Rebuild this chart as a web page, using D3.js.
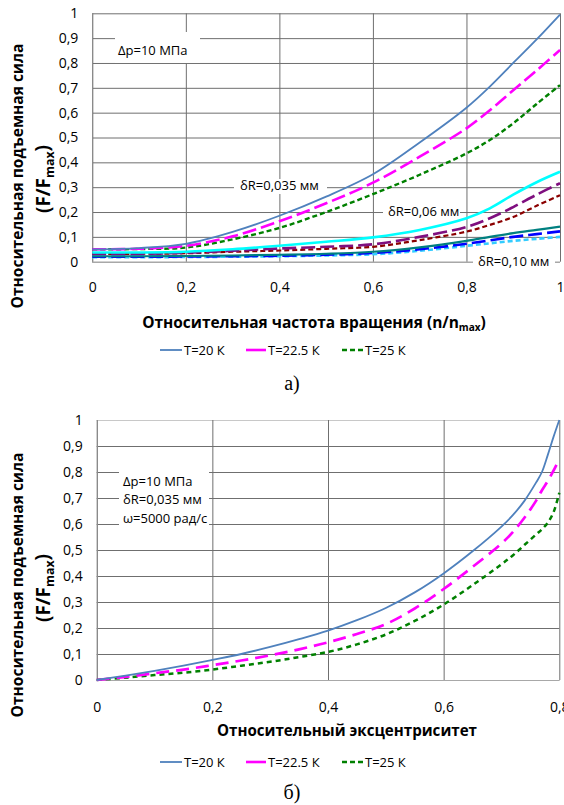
<!DOCTYPE html>
<html><head><meta charset="utf-8">
<script src="https://cdn.jsdelivr.net/npm/d3@7"></script>
<style>body{margin:0;background:#fff}svg{display:block}</style>
</head><body>
<script>
// ---------- DATA ----------
const yTicks = [0,0.1,0.2,0.3,0.4,0.5,0.6,0.7,0.8,0.9,1];
const yTickLabels = ["0","0,1","0,2","0,3","0,4","0,5","0,6","0,7","0,8","0,9","1"];
const speedTicks = [0,0.2,0.4,0.6,0.8,1];
const speedTickLabels = ["0","0,2","0,4","0,6","0,8","1"];
const eccTicks = [0,0.2,0.4,0.6,0.8];
const eccTickLabels = ["0","0,2","0,4","0,6","0,8"];
const legendLabels = ["T=20 К","T=22.5 К","T=25 К"];

// chart a) relative rotation speed n/nmax
const speedX = [0,0.1,0.2,0.3,0.4,0.5,0.6,0.7,0.8,0.85,0.9,0.95,1.0];
const gap035_T20  = [0.05,0.055,0.072,0.12,0.185,0.262,0.352,0.48,0.62,0.705,0.8,0.895,0.995];
const gap035_T225 = [0.05,0.052,0.064,0.102,0.163,0.235,0.318,0.423,0.537,0.61,0.69,0.77,0.852];
const gap035_T25  = [0.05,0.051,0.057,0.09,0.136,0.2,0.272,0.35,0.436,0.49,0.557,0.635,0.711];
const gap06_T20   = [0.037,0.037,0.04,0.05,0.064,0.08,0.098,0.128,0.175,0.215,0.27,0.32,0.362];
const gap06_T225  = [0.032,0.032,0.036,0.044,0.053,0.06,0.07,0.1,0.14,0.175,0.22,0.27,0.316];
const gap06_T25   = [0.032,0.032,0.034,0.04,0.045,0.052,0.06,0.087,0.121,0.148,0.18,0.225,0.268];
const gap10_T20   = [0.022,0.022,0.023,0.025,0.028,0.032,0.04,0.058,0.084,0.1,0.115,0.128,0.141];
const gap10_T225  = [0.02,0.02,0.021,0.022,0.024,0.028,0.035,0.05,0.072,0.086,0.1,0.111,0.122];
const gap10_T25   = [0.018,0.018,0.019,0.02,0.022,0.025,0.03,0.044,0.064,0.074,0.084,0.092,0.1];

// chart б) relative eccentricity
const eccX = [0,0.05,0.1,0.15,0.2,0.25,0.3,0.35,0.4,0.45,0.5,0.55,0.6,0.65,0.7,0.72,0.74,0.76,0.77,0.78,0.79,0.8];
const ecc_T20  = [0,0.017,0.035,0.055,0.077,0.1,0.127,0.157,0.19,0.23,0.277,0.337,0.41,0.495,0.59,0.635,0.69,0.76,0.8,0.865,0.935,1.0];
const ecc_T225 = [0,0.012,0.026,0.04,0.057,0.075,0.095,0.118,0.145,0.177,0.215,0.275,0.35,0.435,0.525,0.57,0.625,0.69,0.73,0.765,0.805,0.85];
const ecc_T25  = [0,0.009,0.019,0.028,0.04,0.055,0.07,0.088,0.108,0.137,0.175,0.227,0.29,0.365,0.445,0.48,0.52,0.56,0.58,0.605,0.645,0.72];

// ---------- STYLES ----------
const FONT = "'Open Sans', 'Noto Sans', sans-serif";
const sBlue   = {color:"#4F81BD", width:1.8, dash:null};
const sMag    = {color:"#FF00FF", width:2.6, dash:"14,5"};
const sGreen  = {color:"#008000", width:2.4, dash:"5,3"};
const sCyan   = {color:"#00FFFF", width:2.6, dash:null};
const sPurple = {color:"#7F0F7F", width:2.6, dash:"14,5"};
const sMaroon = {color:"#8B0000", width:2.2, dash:"5,3"};
const sTeal   = {color:"#008080", width:2.2, dash:null};
const sBlueD  = {color:"#0000FF", width:2.6, dash:"14,5"};
const sLBlue  = {color:"#33CCFF", width:2.6, dash:"5,3"};

const svg = d3.select("body").append("svg").attr("width",564).attr("height",805);
svg.append("rect").attr("width",564).attr("height",805).attr("fill","#fff");

function fitWidth(sel, target){
  const w = sel.node().getComputedTextLength();
  const fs = parseFloat(sel.attr("font-size"));
  sel.attr("font-size", fs*target/w);
}

function drawChart(cfg){
  const g = svg.append("g");
  const x = d3.scaleLinear().domain(cfg.xDomain).range([cfg.left, cfg.right]);
  const y = d3.scaleLinear().domain([0,1]).range([cfg.bottom, cfg.top]);
  const W = cfg.right - cfg.left, H = cfg.bottom - cfg.top;

  const ya = g.append("g").attr("transform",`translate(${cfg.left},0)`)
    .call(d3.axisLeft(y).tickValues(yTicks).tickFormat((d,i)=>yTickLabels[i]).tickSize(-W).tickPadding(14));
  ya.select(".domain").remove();
  ya.selectAll("line").attr("stroke","#6f6f6f");
  ya.selectAll(".tick").filter(d=>d===1).select("line").attr("stroke",cfg.topColor);
  ya.selectAll("text").attr("font-family",FONT).attr("font-size",14).attr("fill","#000");
  const xa = g.append("g").attr("transform",`translate(0,${cfg.bottom})`)
    .call(d3.axisBottom(x).tickValues(cfg.xTicks).tickFormat((d,i)=>cfg.xLabels[i]).tickSize(-H).tickPadding(cfg.xPad));
  xa.select(".domain").remove();
  xa.selectAll("line").attr("stroke","#6f6f6f");
  xa.selectAll("text").attr("font-family",FONT).attr("font-size",14).attr("fill","#000");
  g.append("line").attr("x1",cfg.left).attr("x2",cfg.right).attr("y1",Math.round(cfg.bottom)+0.5).attr("y2",Math.round(cfg.bottom)+0.5).attr("stroke","#a8a8a8");
  g.append("line").attr("x1",Math.round(cfg.left)+0.5).attr("x2",Math.round(cfg.left)+0.5).attr("y1",cfg.top).attr("y2",cfg.bottom).attr("stroke","#8a8a8a");

  cfg.notes.forEach(n=>{
    g.append("rect").attr("x",n.bx).attr("y",n.by).attr("width",n.bw).attr("height",n.bh).attr("fill","#fff");
    n.lines.forEach((t,i)=>{
      g.append("text").attr("x",n.tx).attr("y",n.ty+i*n.lh).attr("font-family",FONT).attr("font-size",13)
        .attr("fill","#000").text(t);
    });
  });

  const line = d3.line().x(d=>x(d[0])).y(d=>y(d[1])).curve(d3.curveCatmullRom.alpha(0.5));
  cfg.series.forEach(s=>{
    const pts = cfg.xs.map((v,i)=>[v, s.values[i]]);
    g.append("path").attr("d",line(pts)).attr("fill","none")
      .attr("stroke",s.style.color).attr("stroke-width",s.style.width)
      .attr("stroke-dasharray",s.style.dash);
  });

  const t1 = g.append("text").attr("transform",`translate(${cfg.yt1x},${cfg.ytcy}) rotate(-90)`)
    .attr("text-anchor","middle").attr("dy","0.35em").attr("font-family",FONT).attr("font-weight",700)
    .attr("font-size",15).text("Относительная подъемная сила");
  fitWidth(t1, 265);
  const t2 = g.append("text").attr("transform",`translate(${cfg.yt2x},${cfg.ytcy+3}) rotate(-90)`)
    .attr("text-anchor","middle").attr("dy","0.35em").attr("font-family",FONT).attr("font-weight",700)
    .attr("font-size",15);
  t2.append("tspan").text("(F/F");
  t2.append("tspan").attr("font-size","65%").attr("dy","0.35em").text("max");
  t2.append("tspan").attr("dy","-0.25em").text(")");
  fitWidth(t2, 68);

  const xt = g.append("text").attr("x",cfg.xtcx).attr("y",cfg.xty).attr("text-anchor","middle")
    .attr("font-family",FONT).attr("font-weight",700).attr("font-size",15);
  xt.append("tspan").text(cfg.xTitle);
  if(cfg.xSub){
    xt.append("tspan").attr("font-size","65%").attr("dy","0.3em").text("max");
    xt.append("tspan").attr("dy","-0.2em").text(")");
  }
  fitWidth(xt, cfg.xtw);

  const legStyles = [sBlue, {color:"#FF00FF",width:2.6,dash:null}, sGreen];
  const lx = [[160,182,184],[246,266,268],[342,364,365]];
  legendLabels.forEach((lab,i)=>{
    g.append("line").attr("x1",lx[i][0]).attr("x2",lx[i][1]).attr("y1",cfg.legY).attr("y2",cfg.legY)
      .attr("stroke",legStyles[i].color).attr("stroke-width",legStyles[i].width)
      .attr("stroke-dasharray",legStyles[i].dash);
    g.append("text").attr("x",lx[i][2]).attr("y",cfg.legY).attr("dy","0.35em")
      .attr("font-family",FONT).attr("font-size",13).attr("fill","#000").text(lab);
  });

  g.append("text").attr("x",292).attr("y",cfg.capY).attr("text-anchor","middle")
    .attr("font-family","'Liberation Serif', 'Times New Roman', serif").attr("font-size",20).text(cfg.caption);
}

drawChart({
  xDomain:[0,1], left:92.3, right:560, top:13.3, bottom:261.7, topColor:"#6f6f6f",
  xTicks:speedTicks, xLabels:speedTickLabels, xPad:20, xs:speedX,
  series:[
    {values:gap10_T25, style:sLBlue},{values:gap10_T225, style:sBlueD},{values:gap10_T20, style:sTeal},
    {values:gap06_T25, style:sMaroon},{values:gap06_T225, style:sPurple},{values:gap06_T20, style:sCyan},
    {values:gap035_T25, style:sGreen},{values:gap035_T225, style:sMag},{values:gap035_T20, style:sBlue}
  ],
  notes:[
    {bx:115,by:32,bw:85,bh:31,tx:118,ty:55,lh:0,lines:["Δp=10 МПа"]},
    {bx:234,by:179,bw:93,bh:15,tx:240,ty:190,lh:0,lines:["δR=0,035 мм"]},
    {bx:383,by:205,bw:77,bh:15,tx:388,ty:216,lh:0,lines:["δR=0,06 мм"]},
    {bx:473,by:254,bw:82,bh:16,tx:478,ty:266,lh:0,lines:["δR=0,10 мм"]}
  ],
  yt1x:18, yt2x:43, ytcy:176,
  xTitle:"Относительная частота вращения (n/n", xSub:true, xtcx:314, xty:328, xtw:344,
  legY:350, caption:"а)", capY:390
});

drawChart({
  xDomain:[0,0.8], left:96.7, right:559.3, top:420, bottom:680, topColor:"#c8c8c8",
  xTicks:eccTicks, xLabels:eccTickLabels, xPad:22, xs:eccX,
  series:[
    {values:ecc_T25, style:{color:"#008000",width:2.5,dash:"5,4"}},
    {values:ecc_T225, style:{color:"#FF00FF",width:2.7,dash:"13,7"}},
    {values:ecc_T20, style:sBlue}
  ],
  notes:[
    {bx:119,by:472,bw:90,bh:53,tx:123,ty:486,lh:18.3,lines:["Δp=10 МПа","δR=0,035 мм","ω=5000 рад/с"]}
  ],
  yt1x:18, yt2x:43, ytcy:585,
  xTitle:"Относительный эксцентриситет", xSub:false, xtcx:347, xty:736, xtw:260,
  legY:762, caption:"б)", capY:799
});
</script>
</body></html>
